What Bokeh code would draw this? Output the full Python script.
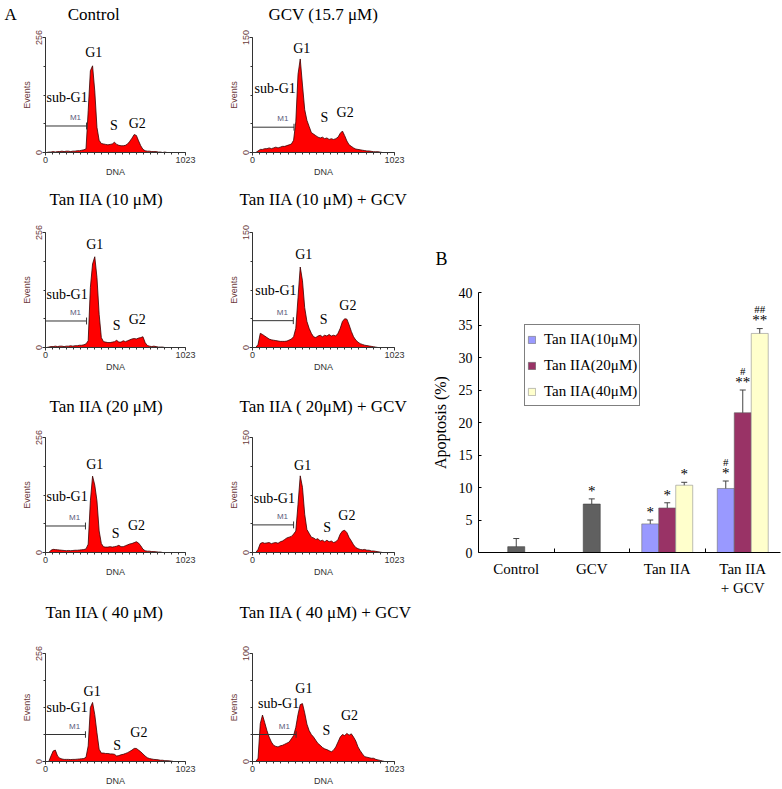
from bokeh.plotting import figure
from bokeh.layouts import row, column
from bokeh.models import (Range1d, FixedTicker, Title, Whisker, ColumnDataSource,
                          Spacer, TeeHead, CustomJSTickFormatter)
from bokeh.embed import file_html
from bokeh.resources import INLINE
from bokeh.core.properties import value

SERIF = "Liberation Serif"
SANS = "Liberation Sans"

# ---------------- Panel A data: DNA histograms (16-channel bins, 0..1023) ----------------
BIN = 16
channel = [BIN * i + BIN / 2 for i in range(64)]

control = [0, 1, 1, 2, 1, 2, 2, 3, 2, 3, 3, 2, 3, 3, 4, 4,
           5, 6, 8, 93, 182, 193, 137, 56, 27, 20,
           19, 18, 17, 18, 19, 23, 18, 16, 15, 15,
           16, 19, 25, 32, 40, 38, 26, 15, 7, 4,
           3, 3, 2, 2, 2, 1, 1, 0, 1, 0,
           0, 0, 0, 0, 0, 0, 0, 0]
gcv = [0, 0, 2, 4, 4, 5, 5, 6, 5, 6, 7, 6, 7, 8, 8, 9,
       10, 11, 16, 40, 102, 122, 88, 56, 42, 34,
       26, 24, 22, 20, 19, 20, 18, 19, 17, 18,
       17, 18, 20, 25, 28, 22, 15, 10, 8, 6,
       4.5, 4, 3.5, 3, 2.5, 2, 2, 1.5, 1, 1,
       1, 0.5, 0, 0, 0, 0, 0, 0]
tan10 = [0, 1, 2, 2, 3, 2, 3, 3, 2, 3, 3, 4, 3, 4, 4, 5,
         5, 6, 8, 15, 134, 186, 202, 156, 74, 22,
         13, 12, 11, 11, 12, 13, 16, 12, 12, 15,
         13, 15, 17, 19, 20, 19, 21, 22, 24, 11,
         4.5, 3, 2, 3, 2, 1, 1, 1, 0, 0,
         0, 0, 0, 0, 0, 0, 0, 0]
tan10_gcv = [0, 0, 4, 18.5, 17, 15, 13, 11, 10, 9.5, 9, 8.5, 8, 8, 8, 8.4,
             9.7, 11, 14, 25, 65, 105, 87, 52, 34, 25,
             18.5, 14, 13, 15, 16, 14, 16, 15, 17, 15,
             16, 15, 18.5, 25, 34, 37.5, 37, 29.5, 21, 14,
             9.7, 7, 5, 4, 3, 2.5, 2, 1.5, 1, 0.5,
             0, 0, 0, 0, 0, 0, 0, 0]
tan20 = [0, 0, 5, 7, 6.5, 6, 5.5, 5, 4.5, 4, 4.5, 4, 4.5, 5, 5, 5.5,
         6, 6.5, 8, 18.5, 115, 170, 150, 115, 48, 20,
         12.6, 12, 12, 13, 12, 13, 14, 16, 13, 13,
         15, 17, 19, 20, 22, 24, 21, 15, 7.4, 4,
         3, 3, 2, 2, 1.5, 1, 1, 0, 0, 0,
         0, 0, 0, 0, 0, 0, 0, 0]
tan20_gcv = [0, 0, 4, 11.7, 13, 12, 12.5, 13, 11.5, 12.5, 13, 12, 14, 15, 17, 19,
             20, 21, 24, 28, 63, 100, 85, 50, 30, 25,
             20, 19, 17, 18, 15, 16, 14, 16, 14, 15,
             13, 14, 17, 24, 28, 29, 26, 19.5, 15, 10,
             6.5, 5, 4, 3.5, 4, 3, 3, 2, 2, 1.5,
             1, 0.5, 0, 0, 0, 0, 0, 0]
tan40 = [0, 0, 13, 25, 27, 13, 8, 6, 5, 5, 5, 4.5, 5, 5, 5.5, 6,
         6.5, 7, 10, 37, 128, 140, 111, 68, 29, 20,
         20, 19, 19, 18, 18, 17, 13, 14, 16, 17,
         19, 21, 24, 27, 31, 31, 27, 23, 18, 13,
         9, 7, 6, 5, 4.5, 4, 3, 3, 2, 2,
         1.5, 1, 0, 0, 0, 0, 0, 0]
tan40_gcv = [0, 0, 3, 35, 43, 36, 28.6, 22.6, 18, 15, 14, 13.5, 14.5, 15, 16, 17,
             18, 21, 24, 31.6, 43.6, 52.7, 53.6, 45, 34.6, 28.6,
             25, 22.6, 19.6, 16.6, 15, 13, 11.7, 11, 10, 9,
             10.5, 13.5, 18, 22.6, 25, 24, 26, 24.4, 25.6, 22.6,
             19, 13.5, 10, 7, 4.5, 4, 3.5, 3, 3, 2,
             1.5, 1, 0.5, 0, 0, 0, 0, 0]

histograms = [control, gcv, tan10, tan10_gcv, tan20, tan20_gcv, tan40, tan40_gcv]
NB = "\u00a0"
panel_titles = ["A" + NB * 12 + "Control", "GCV (15.7 \u03bcM)",
                "Tan IIA (10 \u03bcM)", "Tan IIA (10 \u03bcM) + GCV",
                "Tan IIA (20 \u03bcM)", "Tan IIA ( 20\u03bcM) + GCV",
                "Tan IIA ( 40 \u03bcM)", "Tan IIA ( 40 \u03bcM) + GCV"]
panel_ymax = [256, 150, 256, 150, 256, 150, 256, 100]
m1_end = [300, 299, 300, 294, 292, 296, 292, 314]
m1_level = [59, 33, 59, 35, 59, 36, 64, 25]
phase_text = ["sub-G1", "G1", "S", "G2"]

# annotation placement (channel, events) for sub-G1, G1, S, G2
phase_x = [[158, 353, 500, 670], [163, 355, 518, 667],
           [158, 360, 519, 670], [169, 369, 513, 687],
           [158, 360, 512, 665], [157, 361, 537, 680],
           [158, 341, 524, 682], [188, 370, 533, 699]]
phase_y = [[122, 223, 59, 65], [84, 136, 46, 52],
           [119, 230, 50, 63], [74, 121, 36, 55],
           [124, 195, 42, 59], [70, 114, 33, 48],
           [127, 166, 38, 68], [54, 68, 29, 43]]

# ---------------- Panel B data: apoptosis bars ----------------
categories = ["Control", "GCV", "Tan IIA", "Tan IIA\n+ GCV"]
single_vals = [0.9, 7.45]
single_err = [1.25, 0.8]
series_names = ["Tan IIA(10\u03bcM)", "Tan IIA(20\u03bcM)", "Tan IIA(40\u03bcM)"]
tan10_vals = [4.4, 9.85]
tan10_err = [0.6, 1.15]
tan20_vals = [6.85, 21.5]
tan20_err = [0.8, 3.5]
tan40_vals = [10.35, 33.7]
tan40_err = [0.45, 0.75]
single_star = ["", "*"]
tan10_star = ["*", "*"]
tan20_star = ["*", "**"]
tan40_star = ["*", "**"]
tan10_hash = ["", "#"]
tan20_hash = ["", "#"]
tan40_hash = ["", "##"]

# ---------------- layout parameters (pixels) ----------------
COLS = [dict(width=223, left=45, frame=140), dict(width=205, left=29, frame=142)]
ROWS = [dict(height=187, top=37, frame=115, gap=11),
        dict(height=207, top=45, frame=115, gap=21),
        dict(height=206, top=43, frame=115, gap=19),
        dict(height=188, top=53, frame=109, gap=29)]
TITLE_DX = [-41, 16, 4, -13, 4, -13, 0, -13]   # title left edge vs frame left

Y_TXT = "#6b3b3b"
X_TXT = "#333333"


def add_title(p, text, offset, gap, size):
    # an invisible spacer title sits next to the frame, the real title above it
    p.add_layout(Title(text=NB, text_font_size="1px", standoff=gap, text_color="white"), "above")
    p.add_layout(Title(text=text, align="left", offset=offset, standoff=0, text_font=SERIF,
                       text_font_size=size, text_font_style="normal", text_color="black"), "above")


def hist_fig(i):
    r, c = divmod(i, 2)
    cs, rs = COLS[c], ROWS[r]
    ymax = panel_ymax[i]
    p = figure(width=cs["width"], height=rs["height"],
               x_range=Range1d(0, 1023), y_range=Range1d(0, ymax),
               min_border_left=cs["left"], min_border_right=cs["width"] - cs["left"] - cs["frame"],
               min_border_top=rs["top"], min_border_bottom=rs["height"] - rs["top"] - rs["frame"],
               output_backend="svg", toolbar_location=None,
               x_axis_label="DNA", y_axis_label="Events")
    p.outline_line_color = None
    p.grid.visible = False
    add_title(p, panel_titles[i], TITLE_DX[i], rs["gap"], "17px")

    vals = histograms[i]
    p.varea(x=channel, y1=0, y2=vals, fill_color="#ff0000")
    p.line(channel, vals, line_color="#3a0000", line_width=0.8)

    # M1 gate marker
    lvl, end = m1_level[i], m1_end[i]
    p.segment(x0=[0], y0=[lvl], x1=[end], y1=[lvl], line_color="#333333", line_width=1)
    p.segment(x0=[end], y0=[lvl - ymax * 0.03], x1=[end], y1=[lvl + ymax * 0.03],
              line_color="#333333", line_width=1)
    p.text(x=[end * 0.73], y=[lvl + ymax * 0.075], text=["M1"],
           text_font=value(SANS), text_font_size="8px", text_color="#5a5a7a",
           text_align="center", text_baseline="middle")

    p.text(x=phase_x[i], y=phase_y[i], text=phase_text,
           text_font=value(SERIF), text_font_size="14px", text_color="black",
           text_align="center", text_baseline="middle")

    xa, ya = p.xaxis[0], p.yaxis[0]
    xa.ticker = FixedTicker(ticks=[0, 1023],
                            minor_ticks=[round(1023 * k / 20) for k in range(21)])
    ya.ticker = FixedTicker(ticks=[0, ymax],
                            minor_ticks=[ymax * k / 4 for k in range(5)])
    ya.major_label_orientation = "vertical"
    for ax, col in ((xa, X_TXT), (ya, Y_TXT)):
        ax.axis_line_color = "#333333"
        ax.major_tick_line_color = "#333333"
        ax.minor_tick_line_color = "#333333"
        ax.major_tick_out = 3
        ax.major_tick_in = 0
        ax.minor_tick_out = 2
        ax.minor_tick_in = 0
        ax.major_label_standoff = 1
        ax.axis_label_standoff = 1
        ax.major_label_text_font = SANS
        ax.major_label_text_font_size = "9px"
        ax.major_label_text_color = col
        ax.axis_label_text_font = SANS
        ax.axis_label_text_font_size = "9px"
        ax.axis_label_text_font_style = "normal"
        ax.axis_label_text_color = col
    return p


figs = [hist_fig(i) for i in range(8)]
left_col = column(*[row(figs[2 * r], figs[2 * r + 1]) for r in range(4)])

# ---------------- Panel B ----------------
BW = 0.225
cat_x = [0, 1, 2, 3]
B_W, B_H, B_LEFT, B_TOP, B_FW, B_FH = 353, 365, 48, 52, 304, 260
bar = figure(width=B_W, height=B_H, x_range=Range1d(-0.5, 3.5), y_range=Range1d(0, 40),
             min_border_left=B_LEFT, min_border_right=B_W - B_LEFT - B_FW,
             min_border_top=B_TOP, min_border_bottom=B_H - B_TOP - B_FH,
             output_backend="svg", toolbar_location=None, y_axis_label="Apoptosis (%)")
bar.outline_line_color = None
bar.grid.visible = False
add_title(bar, "B", -43, 21, "18px")

single_x = cat_x[:2]
g10_x = [cat_x[2] - BW, cat_x[3] - BW]
g20_x = [cat_x[2], cat_x[3]]
g40_x = [cat_x[2] + BW, cat_x[3] + BW]

bar.vbar(x=single_x, top=single_vals, width=BW, fill_color="#606060",
         line_color="#3f3f3f", line_width=0.6)
bar.vbar(x=g10_x, top=tan10_vals, width=BW, fill_color="#9999ff",
         line_color="#6f6f6f", line_width=0.6, legend_label=series_names[0])
bar.vbar(x=g20_x, top=tan20_vals, width=BW, fill_color="#993366",
         line_color="#5f5f5f", line_width=0.6, legend_label=series_names[1])
bar.vbar(x=g40_x, top=tan40_vals, width=BW, fill_color="#ffffcc",
         line_color="#8f8f8f", line_width=0.6, legend_label=series_names[2])

all_x = single_x + g10_x + g20_x + g40_x
all_v = single_vals + tan10_vals + tan20_vals + tan40_vals
all_e = single_err + tan10_err + tan20_err + tan40_err
all_star = single_star + tan10_star + tan20_star + tan40_star
all_hash = ["", ""] + tan10_hash + tan20_hash + tan40_hash
err_src = ColumnDataSource(dict(
    x=all_x,
    upper=[v + e for v, e in zip(all_v, all_e)],
    lower=[v - e for v, e in zip(all_v, all_e)],
    star_y=[v + e + 1.25 for v, e in zip(all_v, all_e)],
    hash_y=[v + e + 3.0 for v, e in zip(all_v, all_e)],
    star=all_star, hash=all_hash))
bar.add_layout(Whisker(source=err_src, base="x", upper="upper", lower="lower",
                       line_color="#444444", line_width=1,
                       upper_head=TeeHead(size=6, line_color="#444444", line_width=1),
                       lower_head=TeeHead(size=6, line_color="#444444", line_width=1)))
bar.text(x="x", y="star_y", text="star", source=err_src, text_font=value(SERIF),
         text_font_size="15px", text_align="center", text_baseline="alphabetic",
         text_color="black")
bar.text(x="x", y="hash_y", text="hash", source=err_src, text_font=value(SERIF),
         text_font_size="11px", text_align="center", text_baseline="alphabetic",
         text_color="black")

xa, ya = bar.xaxis[0], bar.yaxis[0]
xa.ticker = FixedTicker(ticks=cat_x, minor_ticks=[0.5, 1.5, 2.5])
xa.formatter = CustomJSTickFormatter(args=dict(labels=categories),
                                     code="const i = Math.round(tick); return (i >= 0 && i < labels.length) ? labels[i] : '';")
xa.major_tick_in = 0
xa.major_tick_out = 0
xa.minor_tick_in = 4
xa.minor_tick_out = 0
xa.major_label_standoff = 8
ya.ticker = FixedTicker(ticks=[0, 5, 10, 15, 20, 25, 30, 35, 40])
ya.major_tick_in = 3
ya.major_tick_out = 0
ya.major_label_standoff = 6
ya.axis_label_standoff = 7
for ax in (xa, ya):
    ax.axis_line_color = "black"
    ax.major_tick_line_color = "black"
    ax.major_label_text_font = SERIF
    ax.major_label_text_color = "black"
    ax.axis_label_text_font = SERIF
    ax.axis_label_text_font_style = "normal"
    ax.axis_label_text_font_size = "16px"
    ax.axis_label_text_color = "black"
xa.minor_tick_line_color = "black"
ya.minor_tick_line_color = None
xa.major_label_text_font_size = "15px"
ya.major_label_text_font_size = "14px"

lg = bar.legend[0]
lg.location = (46, 146)
lg.label_text_font = SERIF
lg.label_text_font_size = "15px"
lg.label_text_color = "black"
lg.glyph_width = 9
lg.glyph_height = 9
lg.label_standoff = 8
lg.label_height = 24
lg.spacing = 2
lg.padding = 2
lg.margin = 0
lg.border_line_color = "black"
lg.border_line_width = 1
lg.background_fill_color = "white"
lg.background_fill_alpha = 1

right_col = column(Spacer(width=B_W, height=240), bar)
layout = row(left_col, right_col)

open("out.html", "w").write(file_html(layout, INLINE))
